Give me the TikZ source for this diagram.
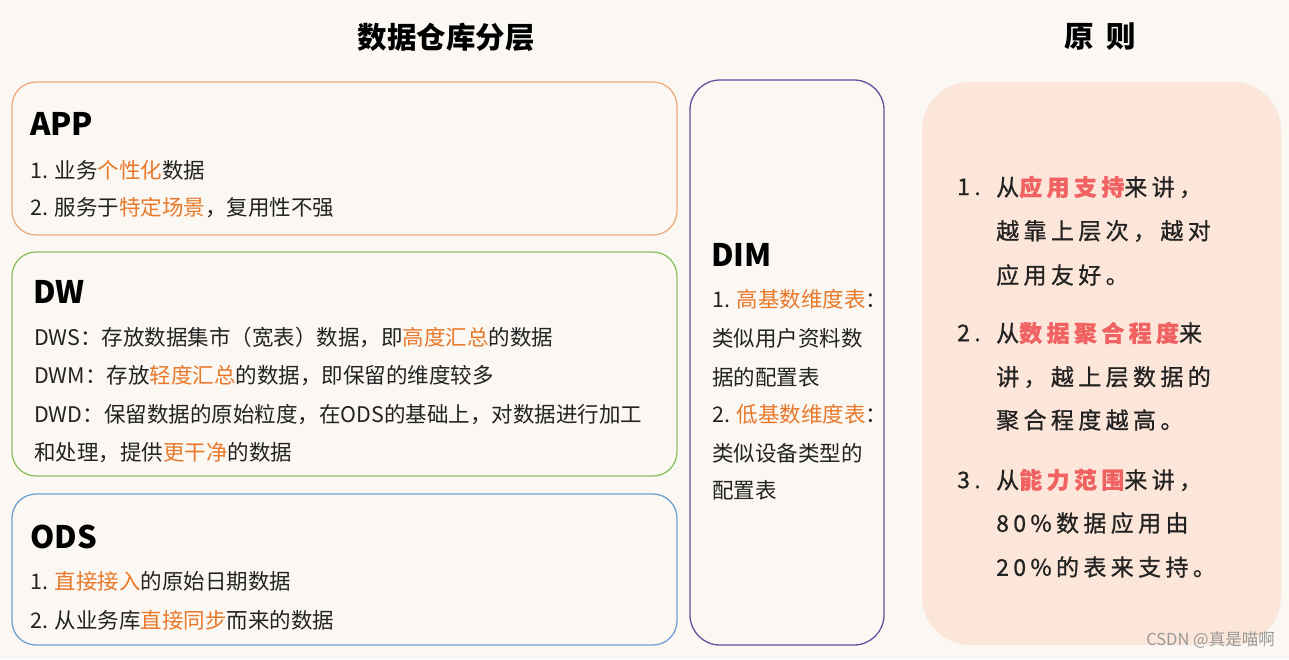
\documentclass[tikz,border=0pt]{standalone}
\usepackage{fontspec}
\setmainfont{Noto Sans CJK SC}
\newfontfamily\rfont[LetterSpace=19, FakeBold=0.8]{Noto Sans CJK SC}
\definecolor{bgc}{HTML}{FBF8F3}
\definecolor{peach}{HTML}{FCE6D9}
\definecolor{hl}{HTML}{E8782A}
\definecolor{rhl}{HTML}{F06262}
\definecolor{txtc}{HTML}{222222}
\definecolor{appc}{HTML}{EFAA7C}
\definecolor{dwc}{HTML}{8DBF62}
\definecolor{odsc}{HTML}{6E9FD3}
\definecolor{dimc}{HTML}{6B4E9E}
\newcommand{\hlo}[1]{{\color{hl}#1}}
\newcommand{\hlr}[1]{{\color{rhl}\bfseries#1}}
\begin{document}
\begin{tikzpicture}[x=1pt,y=-1pt,
  lbox/.style={draw, line width=1.3pt, rounded corners=24pt},
  txt/.style={anchor=west, inner sep=0pt, font=\fontsize{21.5}{24}\selectfont, text=txtc},
  head/.style={anchor=west, inner sep=0pt, font=\fontsize{31}{36}\selectfont\bfseries, text=black},
  ttl/.style={inner sep=0pt, font=\fontsize{29.5}{34}\selectfont\bfseries, text=black},
  rtxt/.style={anchor=west, inner sep=0pt, font=\rfont\fontsize{23}{26}\selectfont, text=txtc},
]
\fill[bgc] (0,0) rectangle (1289,659);
\useasboundingbox (0,0) rectangle (1289,659);

% titles
\node[ttl] (t1) at (446,37) {数据仓库分层};
\node[ttl] (t2) at (1100,37) {原\hspace{13pt}则};

% boxes
\draw[lbox, appc] (12,82) rectangle (677,235);
\draw[lbox, dwc] (12,252) rectangle (677,476);
\draw[lbox, odsc] (12,494) rectangle (677,645);
\draw[lbox, dimc, rounded corners=30pt] (690,80) rectangle (884,645);
\fill[peach, rounded corners=48pt] (922,82) rectangle (1281,645);

% APP
\node[head] (apph) at (30,124) {APP};
\node[txt] (app1) at (30,170) {1. 业务\hlo{个性化}数据};
\node[txt] (app2) at (30,208) {2. 服务于\hlo{特定场景}，复用性不强};

% DW
\node[head] (dwh) at (33,292) {DW};
\node[txt] (dw1) at (34,337) {DWS：存放数据集市（宽表）数据，即\hlo{高度汇总}的数据};
\node[txt] (dw2) at (34,376) {DWM：存放\hlo{轻度汇总}的数据，即保留的维度较多};
\node[txt] (dw3) at (34,415) {DWD：保留数据的原始粒度，在ODS的基础上，对数据进行加工};
\node[txt] (dw4) at (34,453) {和处理，提供\hlo{更干净}的数据};

% ODS
\node[head] (odsh) at (30,537) {ODS};
\node[txt] (ods1) at (30,581) {1. \hlo{直接接入}的原始日期数据};
\node[txt] (ods2) at (30,620) {2. 从业务库\hlo{直接同步}而来的数据};

% DIM
\node[head] (dimh) at (711,255) {DIM};
\node[txt] (dim1) at (712,299) {1. \hlo{高基数维度表}：};
\node[txt] (dim2) at (712,338) {类似用户资料数};
\node[txt] (dim3) at (712,377) {据的配置表};
\node[txt] (dim4) at (712,414) {2. \hlo{低基数维度表}：};
\node[txt] (dim5) at (712,453) {类似设备类型的};
\node[txt] (dim6) at (712,490) {配置表};

% principles
\node[rtxt] (r1n) at (957,187) {1.};
\node[rtxt] (r1a) at (996,187) {从\hlr{应用支持}来讲，};
\node[rtxt] (r1b) at (996,231) {越靠上层次，越对};
\node[rtxt] (r1c) at (996,275) {应用友好。};
\node[rtxt] (r2n) at (957,333) {2.};
\node[rtxt] (r2a) at (996,333) {从\hlr{数据聚合程度}来};
\node[rtxt] (r2b) at (996,377) {讲，越上层数据的};
\node[rtxt] (r2c) at (996,420) {聚合程度越高。};
\node[rtxt] (r3n) at (957,480) {3.};
\node[rtxt] (r3a) at (996,480) {从\hlr{能力范围}来讲，};
\node[rtxt] (r3b) at (996,523) {80\%数据应用由};
\node[rtxt] (r3c) at (996,567) {20\%的表来支持。};

% watermark
\node[anchor=east, inner sep=0pt, font=\fontsize{16.5}{18}\selectfont, text=black!40] (wm) at (1275,640) {CSDN @真是喵啊};
\end{tikzpicture}
\end{document}
